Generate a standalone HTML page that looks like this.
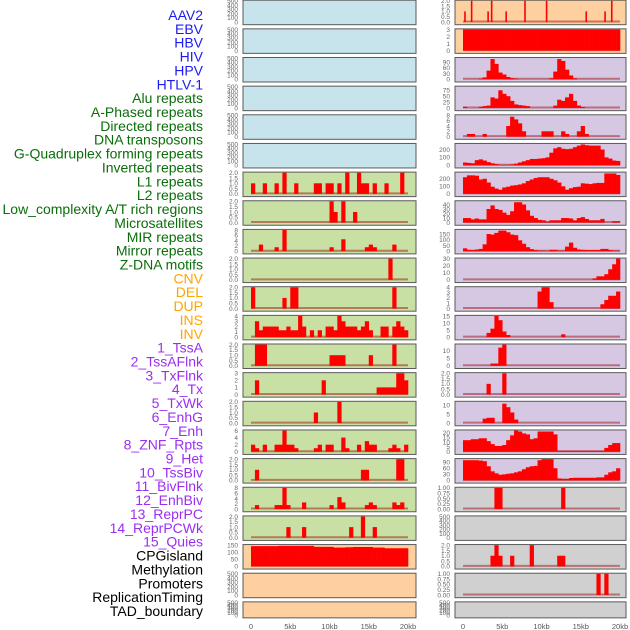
<!DOCTYPE html>
<html><head><meta charset="utf-8"><style>
html,body{margin:0;padding:0;background:#fff;width:630px;height:630px;overflow:hidden}
svg{display:block;font-family:"Liberation Sans",sans-serif}
</style></head><body>
<svg id="c" width="630" height="630"></svg>
<script>
// ---------- data ----------
const labels = ["AAV2","EBV","HBV","HIV","HPV","HTLV-1","Alu repeats","A-Phased repeats","Directed repeats","DNA transposons","G-Quadruplex forming repeats","Inverted repeats","L1 repeats","L2 repeats","Low_complexity A/T rich regions","Microsatellites","MIR repeats","Mirror repeats","Z-DNA motifs","CNV","DEL","DUP","INS","INV","1_TssA","2_TssAFlnk","3_TxFlnk","4_Tx","5_TxWk","6_EnhG","7_Enh","8_ZNF_Rpts","9_Het","10_TssBiv","11_BivFlnk","12_EnhBiv","13_ReprPC","14_ReprPCWk","15_Quies","CPGisland","Methylation","Promoters","ReplicationTiming","TAD_boundary"];
const labelGroups = [0,0,0,0,0,0,1,1,1,1,1,1,1,1,1,1,1,1,1,2,2,2,2,2,3,3,3,3,3,3,3,3,3,3,3,3,3,3,3,4,4,4,4,4];
const xTicks = [0,5,10,15,20];
const xTickLabels = ["0","5kb","10kb","15kb","20kb"];
function B(o){const a=new Array(40).fill(0);for(const k in o)a[+k]=o[k];return a;}
const T500=["500","400","300","200","100","0"], T2=["2.0","1.5","1.0","0.5","0.0"], T1=["1.00","0.75","0.50","0.25","0.00"];
const midBg = ["b","b","b","b","b","b","g","g","g","g","g","g","g","g","g","g","g","g","g","o","o","o"];
const midMax = [500,500,500,500,500,500,2,2,8,2,2,4,2,3,2,6,2,8,2,150,500,500];
const midTicks = [T500,T500,T500,T500,T500,T500,T2,T2,["8","6","4","2","0"],T2,T2,["4","3","2","1","0"],T2,["3","2","1","0"],T2,["6","4","2","0"],T2,["8","6","4","2","0"],T2,["150","100","50","0"],T500,T500];
const midBins = [null,null,null,null,null,null,
 B({0:1,3:1,6:1,8:2,11:1,16:1,17:1,19:1,20:1,22:1,24:2,27:2,28:1,29:1,31:1,34:1,38:2}),
 B({20:2,21:1,23:2,26:1}),
 B({2:2.5,6:1.5,8:8,20:1.5,23:4.5,29:1.5,30:2.5,31:1.5,36:2.5}),
 B({35:2}),
 B({0:2,8:1,10:2,11:2,36:2}),
 B({1:3,2:1.3,3:2,4:2,5:2,6:2,7:1.3,8:1.3,9:2,10:1.3,11:1.3,12:4,13:2,15:1.3,17:1.3,19:2,20:2,21:1.3,22:4,23:3,24:2,25:2,26:2,27:1.3,28:2,29:3,30:1.3,33:2,34:2,36:2,37:3,38:2,39:1.3}),
 B({1:2,2:2,3:2,20:1,21:1,22:1,23:1,30:1,36:2}),
 B({1:2,18:2,32:1,33:1,34:1,35:1,36:1,37:3,38:3,39:2}),
 B({16:1,22:2}),
 B({0:2,1:1,3:2,6:2,7:2,8:6,9:2,10:2,11:1,16:1,17:2,19:2,20:2,23:4,24:1,27:2,29:3,30:2,31:2,35:1,36:2,37:1,39:2}),
 B({1:1,28:1,29:1,37:2,38:2}),
 B({1:1.5,6:1.5,7:1.5,8:8,9:1.5,13:2.5,20:1.5,22:4.5,23:2.5,29:1.5,30:2.5,31:1.5,36:2.5,37:1.5,38:2.5}),
 B({9:1,13:1,25:1,28:2,31:1}),
 [143,143,143,143,143,143,143,145,145,145,145,145,145,145,145,145,138,138,138,138,138,133,133,133,135,135,137,137,137,137,137,133,133,133,128,128,128,128,128,128],
 null,null];
const rightBg = ["o","o","p","p","p","p","p","p","p","p","p","p","p","p","p","p","p","y","y","y","y","y"];
const rightMax = [2,3,110,90,8,270,280,47,185,30,4,15,14,2,12,22,105,1,500,2,1,500];
const rightTicks = [T2,["3","2","1","0"],["90","60","30","0"],["75","50","25","0"],["8","6","4","2","0"],["200","100","0"],["200","100","0"],["40","30","20","10","0"],["150","100","50","0"],["30","20","10","0"],["4","3","2","1","0"],["15","10","5","0"],["10","5","0"],T2,["10","5","0"],["20","15","10","5","0"],["90","60","30","0"],T1,T500,T2,T1,T500];
const aav2Pos = [0.25,1.1,3.2,3.65,5.5,7.9,10.65,15.7,18.1,18.95];
const aav2Val = [1,2,1,2,1,2,2,1,1,2];
const rightBins = [null,
 new Array(40).fill(3),
 B({4:3,5:10,6:45,7:105,8:80,9:35,10:25,11:12,12:6,13:3,22:5,23:40,24:105,25:95,26:50,27:20,28:5}),
 B({0:5,4:5,5:8,6:10,7:45,8:40,9:75,10:60,11:50,12:30,13:15,14:12,15:10,16:8,23:10,24:35,25:30,26:45,27:60,28:30,29:10,30:4}),
 B({1:1,2:1,5:1,11:4,12:7.5,13:6.5,14:5,15:2,20:2,21:2,22:2,25:2,26:1,29:2,30:4,31:1}),
 [35,30,25,65,75,60,40,25,15,5,5,5,10,20,35,50,65,80,80,85,90,100,160,215,230,210,205,210,230,250,265,255,250,250,250,200,100,85,60,55],
 [220,245,245,240,190,200,150,95,70,55,85,95,110,115,125,140,170,190,210,220,220,220,200,180,150,100,55,75,90,95,140,135,130,140,145,145,270,270,270,250],
 [10,10,7,9,7,7,30,38,30,28,22,17,25,45,45,40,27,15,10,6,5,2,5,5,5,10,10,9,5,10,12,8,5,5,5,8,0,0,3,3],
 [25,12,10,15,20,60,150,145,160,180,180,165,145,140,95,65,35,18,10,5,5,3,12,12,5,5,40,75,30,15,12,10,10,10,10,20,20,10,5,5],
 B({33:2,34:5,35:5,36:8,37:15,38:22,39:30}),
 B({19:3.2,20:4,21:4,22:1.2,35:0.8,36:1.6,37:2.4,38:2.4,39:3.2}),
 B({6:3,7:6,8:15,9:12,10:4,11:1.5,25:2}),
 B({7:1.5,8:1.5,9:12,10:14}),
 B({6:1,10:2}),
 B({5:2.5,6:3,7:3,10:11,11:9,12:6,13:2}),
 [12,12,13,13,14,14,11,8,6,6,7,12,17,22,21,19,18,13,14,21,21,21,21,18,1,1,1,1,1,1,1,1,1,1,1,1,4,7,9,9],
 [100,100,100,100,98,95,70,45,35,28,30,33,35,40,45,55,65,70,72,100,105,105,105,60,10,8,8,12,13,13,13,13,13,13,15,15,28,40,45,60],
 B({8:1,9:1,25:1}),
 null,
 B({7:1,8:2,9:1,12:1,17:2,24:1,25:1}),
 B({34:1,36:1}),
 null];

// ---------- drawing ----------
const NS="http://www.w3.org/2000/svg";
const svg=document.getElementById('c');
const bgCol={b:"#c7e3eb",g:"#c8e0a3",o:"#fecf9f",p:"#d6c7e3",y:"#d0d0d0"};
const grpCol=["#1c1cf2","#0a6e0a","#ffa500","#9b2ff0","#000000"];
function el(tag,attrs,parent){const e=document.createElementNS(NS,tag);for(const k in attrs)e.setAttribute(k,attrs[k]);(parent||svg).appendChild(e);return e;}

labels.forEach((t,i)=>{
  const e=el('text',{x:203,y:15+13.86*i+5,'text-anchor':'end','font-size':'14',fill:grpCol[labelGroups[i]]});
  e.textContent=t;
  
  
});

const cols=[{px0:243,px1:416,d0:251,d1:408,tx:238,bg:midBg,max:midMax,ticks:midTicks,bins:midBins,name:'left'},
            {px0:455,px1:626,d0:463,d1:620,tx:450,bg:rightBg,max:rightMax,ticks:rightTicks,bins:rightBins,name:'right'}];
function rowTop(i){return 0.2+i*28.65;}
function rowH(i){return i===21?16:24.5;}

cols.forEach((c,ci)=>{
  const xs=kb=>c.d0+(kb/20)*(c.d1-c.d0);
  for(let r=0;r<22;r++){
    const top=rowTop(r),h=rowH(r),bot=top+h-2.7,inTop=top+0.6;
    const ys=v=>bot-(v/c.max[r])*(bot-inTop);
    const g=el('g',{});
    
    
    el('rect',{x:c.px0,y:top,width:c.px1-c.px0,height:h,fill:bgCol[c.bg[r]],stroke:'#5a5a5a','stroke-width':1},g);
    c.ticks[r].forEach(t=>{
      const tt=el('text',{x:c.tx,y:ys(parseFloat(t))+2.3,'text-anchor':'end','font-size':'6.5',fill:'#666'},g);
      tt.textContent=t;
      
      
    });
    const data=c.bins[r];
    const hasPts=(ci===1&&r===0);
    if(data||hasPts){
      el('line',{x1:xs(0),x2:xs(20),y1:bot-0.5,y2:bot-0.5,stroke:'rgba(150,0,0,0.45)','stroke-width':2},g);
    }
    if(data){
      const bw=20/data.length;
      data.forEach((v,k)=>{
        if(v<=0)return;
        const b=el('rect',{x:xs(k*bw),y:ys(v),width:xs((k+1)*bw)-xs(k*bw)+0.3,height:bot-ys(v),fill:'#ff0000'},g);
        
        
      });
    }
    if(hasPts){
      aav2Pos.forEach((p,k)=>{
        const b=el('rect',{x:xs(p)-0.8,y:ys(aav2Val[k]),width:1.6,height:bot-ys(aav2Val[k]),fill:'#ff0000'},g);
        
        
      });
    }
  }
  xTicks.forEach((t,k)=>{
    const tt=el('text',{x:xs(t),y:629,'text-anchor':'middle','font-size':'7.5',fill:'#555'});
    tt.textContent=xTickLabels[k];
    
    
  });
});
</script>
</body></html>
